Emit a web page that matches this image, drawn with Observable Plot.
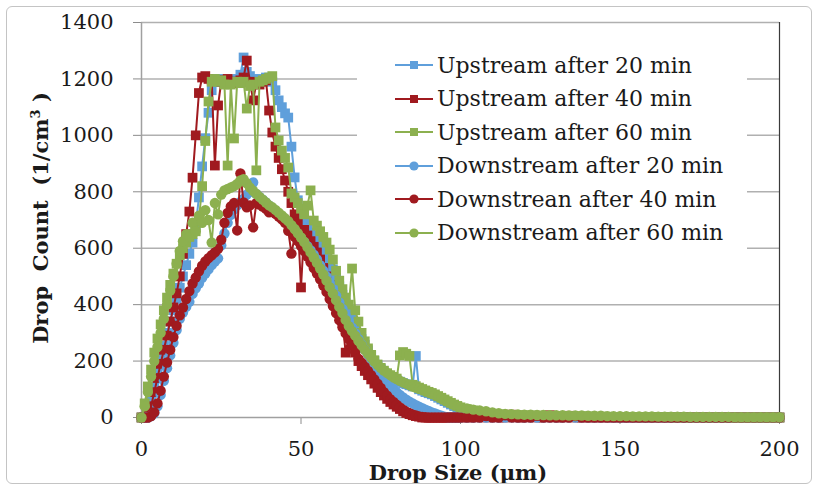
<!DOCTYPE html>
<html>
<head>
<meta charset="utf-8">
<script src="https://cdn.jsdelivr.net/npm/d3@7"></script>
<script src="https://cdn.jsdelivr.net/npm/@observablehq/plot@0.6"></script>
<style>
  html, body { margin: 0; padding: 0; background: #fff; }
  #wrap { position: relative; width: 818px; height: 491px; overflow: hidden; font-family: "DejaVu Serif", serif; color: #1a1a1a; }
  #chart { position: absolute; left: 0; top: 0; }
  #frame { position: absolute; left: 6px; top: 6px; width: 804px; height: 476px; border: 1px solid #c4c4c4; border-radius: 6px; pointer-events: none; }
  #chart svg [aria-label="x-axis tick"] path, #chart svg [aria-label="y-axis tick"] path,
  #chart svg [aria-label="x-axis"] line, #chart svg [aria-label="y-axis"] line { stroke: #8c8c8c; }
  .ytitle { position: absolute; left: 40px; top: 218px; transform: translate(-50%, -50%) rotate(-90deg); font-weight: bold; font-size: 21px; white-space: pre; }
  .ytitle sup { font-size: 13px; vertical-align: 8px; line-height: 0; }
  .xtitle { position: absolute; left: 458px; top: 472px; transform: translate(-50%, -50%); font-weight: bold; font-size: 21px; white-space: pre; }
  #legend { position: absolute; left: 357px; top: 44px; width: 390px; height: 213px; background: #fff; }
  .row { position: absolute; left: 38px; height: 34px; display: flex; align-items: center; font-size: 22px; white-space: nowrap; }
  .row svg { margin-right: 4px; }
</style>
</head>
<body>
<div id="wrap">
  <div id="chart"></div>
  <div id="legend"></div>
  <div class="ytitle">Drop  Count  (1/cm<sup>3</sup> )</div>
  <div class="xtitle">Drop Size (µm)</div>
  <div id="frame"></div>
</div>
<script>
const sizes = [
  0,1,2,3,4,5,6,7,8,9,10,11,12,13,14,15,16,17,18,19,20,21,22,23,24,25,26,27,28,29,
  30,31,32,33,34,35,36,37,38,39,40,41,42,43,44,45,46,47,48,49,50,51,52,53,54,55,56,57,58,59,
  60,61,62,63,64,65,66,67,68,69,70,71,72,73,74,75,76,77,78,79,80,81,82,83,84,85,86,87,88,89,
  90,91,92,93,94,95,96,97,98,99,100,
  102,104,106,108,110,112,114,116,118,120,122,124,126,128,130,132,134,136,138,140,
  142,144,146,148,150,152,154,156,158,160,162,164,166,168,170,172,174,176,178,180,
  182,184,186,188,190,192,194,196,198,200
];

const upstream20 = [
  0,0,20,60,110,160,210,255,300,340,
  380,420,460,500,540,580,620,680,780,890,
  990,1080,1160,1190,1200,1195,1190,1185,1190,1195,
  1200,1215,1276,1225,1210,1200,1195,1190,1200,1205,
  1200,1190,1160,1124,1100,1078,1063,960,851,770,
  710,690,670,655,645,632,615,595,575,555,
  525,495,465,435,405,380,350,325,300,278,
  258,238,218,200,185,172,160,150,143,137,
  132,127,122,118,114,110,218,100,95,90,
  86,82,76,70,64,58,52,46,40,35,
  30,
  25,20,16,12,10,8,7,6,5,5, 4,4,3,3,3,2,2,2,2,1, 1,1,1,0,0,0,0,0,0,0,
  0,0,0,0,0,0,0,0,0,0, 0,0,0,0,0,0,0,0,0,0
];

const upstream40 = [
  0,0,10,40,90,140,190,240,290,340,
  390,440,500,580,650,730,850,1000,1150,1205,
  1210,1200,1195,893,1106,1190,1195,1200,1190,1185,
  1190,1195,1205,1265,1190,1124,1185,1180,1190,1195,
  1088,1010,960,920,880,840,800,760,720,690,
  461,665,645,625,605,585,560,530,500,470,
  440,405,370,340,230,290,260,230,200,182,
  165,150,135,120,105,90,78,66,55,46,
  38,30,22,16,12,8,5,3,0,0,
  0,0,0,0,0,0,0,0,0,0,
  0,
  0,0,6,0,8,0,0,10,0,0, 5,0,0,8,0,0,6,0,0,0, 0,0,0,0,0,0,0,0,0,0,
  0,0,0,0,0,0,0,0,0,0, 0,0,0,0,0,0,0,0,0,0
];

const upstream60 = [
  0,50,110,170,230,280,330,380,425,470,
  510,545,575,600,620,640,650,660,700,820,
  980,1120,1190,1200,1190,1195,1180,893,1180,989,
  1190,1185,1190,1095,1175,1180,876,1190,1195,1200,
  1205,1210,1028,982,946,920,886,794,780,760,
  740,720,751,805,698,680,660,640,620,595,
  560,520,485,455,425,400,528,380,340,300,
  270,245,222,203,188,176,166,157,150,144,
  138,220,232,226,218,116,111,106,101,96,
  91,87,82,76,70,64,58,52,46,41,
  36,
  30,25,20,16,13,11,10,9,8,8, 7,7,6,6,5,5,5,4,4,4, 3,3,3,2,2,2,2,1,1,1,
  1,1,1,0,0,0,0,0,0,0, 0,0,0,0,0,0,0,0,0,0
];

const downstream20 = [
  0,0,0,5,15,40,80,130,175,220,
  265,310,350,372,392,410,438,458,475,495,
  510,525,540,553,564,610,652,690,718,738,
  752,764,775,790,800,833,792,782,772,762,
  752,742,732,722,712,702,692,678,664,650,
  636,622,607,592,577,560,540,520,500,478,
  455,432,408,385,362,340,318,298,278,258,
  240,223,206,190,174,158,143,128,114,101,
  90,80,71,63,56,50,44,38,33,28,
  23,18,14,10,6,3,1,0,0,0,
  0,
  0,0,0,0,0,0,0,0,0,0, 0,0,0,0,0,0,0,0,0,0, 0,0,0,0,0,0,0,0,0,0,
  0,0,0,0,0,0,0,0,0,0, 0,0,0,0,0,0,0,0,0,0
];

const downstream40 = [
  0,0,0,5,18,50,95,145,195,240,
  285,325,362,390,420,448,475,496,518,538,
  553,565,575,585,598,630,690,725,748,760,
  663,865,762,745,752,674,760,755,748,740,
  727,732,722,712,702,690,662,581,640,625,
  608,590,570,550,530,510,490,468,445,420,
  395,370,345,320,298,278,255,232,208,194,
  180,165,150,135,120,105,90,77,65,55,
  45,36,28,21,15,10,7,4,2,1,
  0,0,0,0,0,0,0,0,0,0,
  0,
  0,0,0,5,0,0,8,0,0,0, 0,6,0,0,0,0,0,5,0,0, 0,0,0,0,0,0,0,0,0,0,
  0,0,0,0,0,0,0,0,0,0, 0,0,0,0,0,0,0,0,0,0
];

const downstream60 = [
  0,40,90,145,200,250,300,350,400,450,
  500,545,590,625,650,640,690,660,715,690,
  735,700,620,760,720,790,805,810,815,820,
  828,840,845,830,815,803,792,782,772,762,
  752,745,736,726,716,706,696,682,668,653,
  638,622,604,585,567,548,528,507,485,462,
  440,416,392,370,346,324,306,290,272,256,
  240,226,212,198,187,176,166,158,150,142,
  136,130,125,120,115,110,106,102,98,94,
  90,85,80,74,68,62,56,50,45,40,
  36,
  32,28,25,22,18,15,13,12,11,10, 10,9,9,8,8,8,7,7,7,6, 6,6,5,5,5,5,4,4,4,4,
  3,3,3,3,3,2,2,2,2,2, 2,2,1,1,1,1,1,1,1,1
];

const seriesNames = [
  "Upstream after 20 min", "Upstream after 40 min", "Upstream after 60 min",
  "Downstream after 20 min", "Downstrean after 40 min", "Downstream after 60 min"
];
const seriesValues = [upstream20, upstream40, upstream60, downstream20, downstream40, downstream60];
const seriesColors = ["#5f9fdb", "#a01a1f", "#8cb04f", "#5f9fdb", "#a01a1f", "#8cb04f"];
const seriesSymbols = ["square", "square", "square", "circle", "circle", "circle"];

const xTicks = [0, 50, 100, 150, 200];
const yTicks = [0, 200, 400, 600, 800, 1000, 1200, 1400];

const marks = [
  Plot.ruleY(yTicks.filter(d => d > 0), {stroke: "#b0b0b0", strokeWidth: 1.5}),
  Plot.ruleX([xTicks[0]], {stroke: "#a0a0a0", strokeWidth: 1.5}),
  Plot.ruleY([yTicks[0]], {stroke: "#a0a0a0", strokeWidth: 1.5}),
  Plot.ruleX([xTicks[xTicks.length - 1]], {stroke: "#3a3a3a", strokeWidth: 1.2})
];

seriesNames.forEach((name, k) => {
  const rows = sizes.map((s, i) => ({size: s, count: seriesValues[k][i], series: name}));
  const sq = seriesSymbols[k] === "square";
  marks.push(Plot.line(rows, {x: "size", y: "count", stroke: seriesColors[k], strokeWidth: 2}));
  marks.push(Plot.dot(rows, {x: "size", y: "count", fill: seriesColors[k], r: sq ? 5.5 : 5.2, symbol: seriesSymbols[k]}));
});

const chart = Plot.plot({
  width: 818,
  height: 491,
  marginLeft: 141,
  marginRight: 39,
  marginTop: 22,
  marginBottom: 74,
  style: {fontFamily: "'DejaVu Serif', serif", fontSize: "21px", color: "#1a1a1a", background: "none"},
  x: {domain: [0, 200], ticks: xTicks, tickFormat: d3.format("d"), tickSize: 7, tickPadding: 17, label: null},
  y: {domain: [0, 1400], ticks: yTicks, tickFormat: d3.format("d"), tickSize: 8, tickPadding: 20, label: null},
  marks
});
document.getElementById("chart").appendChild(chart);

// legend
const legend = document.getElementById("legend");
seriesNames.forEach((name, k) => {
  const row = document.createElement("div");
  row.className = "row";
  row.style.top = (4 + 33.5 * k) + "px";
  const sym = seriesSymbols[k] === "square"
    ? `<rect x="15" y="2" width="8" height="8" fill="${seriesColors[k]}"/>`
    : `<circle cx="19" cy="6" r="4.6" fill="${seriesColors[k]}"/>`;
  row.innerHTML = `<svg width="38" height="12"><line x1="0" x2="38" y1="6" y2="6" stroke="${seriesColors[k]}" stroke-width="2"/>${sym}</svg><span>${name}</span>`;
  legend.appendChild(row);
});
</script>
</body>
</html>
